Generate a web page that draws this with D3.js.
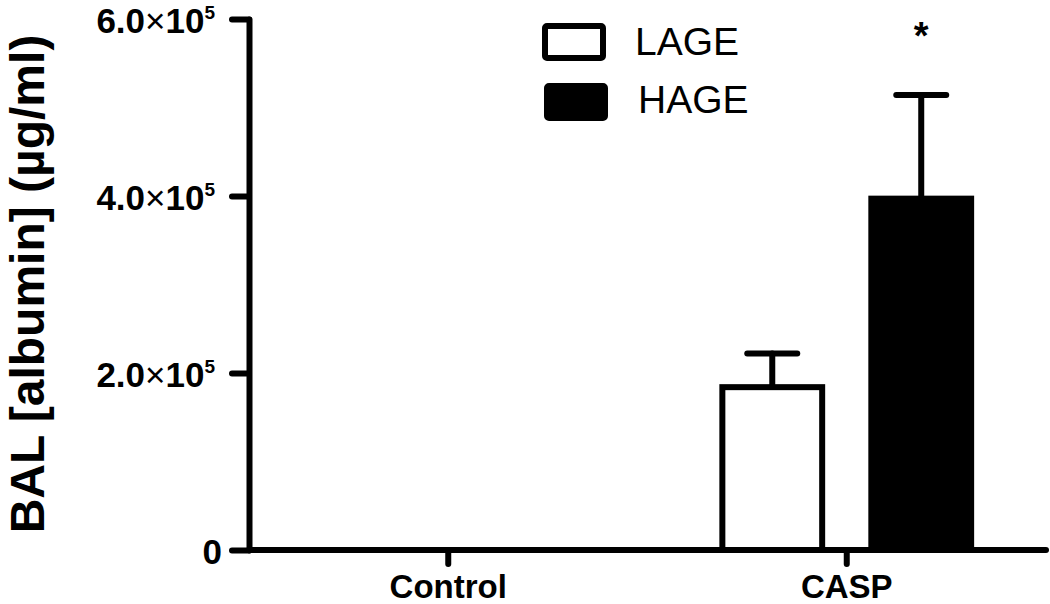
<!DOCTYPE html>
<html lang="en">
<head>
  <meta charset="UTF-8">
  <title>BAL albumin</title>
  <script src="https://d3js.org/d3.v7.min.js"></script>
  <style>
    body {
      margin: 0;
      background: #ffffff;
      font-family: "Liberation Sans", Arial, sans-serif;
    }

    .axis path,
    .axis line {
      stroke: #000000;
      stroke-width: 6;
      stroke-linecap: round;
    }

    .axis text {
      fill: #000000;
      font-weight: bold;
      font-family: "Liberation Sans", Arial, sans-serif;
    }

    .bar {
      stroke: #000000;
      stroke-width: 6;
    }

    .errbar {
      stroke: #000000;
      stroke-width: 6;
      stroke-linecap: round;
      fill: none;
    }
  </style>
</head>
<body>
  <script>
    // data
    const groups = ["Control", "CASP"];
    const series = ["LAGE", "HAGE"];
    const lageMean = [0, 184000];
    const lageSem = [0, 38000];
    const hageMean = [0, 397000];
    const hageSem = [0, 117000];
    const hageSig = ["", "*"];
    const yTicks = [0, 200000, 400000, 600000];

    const width = 1050, height = 604;
    const x0left = 249, x0right = 1046, yBottom = 550, yTop = 19;

    const svg = d3.select("body").append("svg")
      .attr("width", width)
      .attr("height", height);

    const y = d3.scaleLinear()
      .domain([0, 600000])
      .range([yBottom, yTop]);

    const x0 = d3.scaleBand()
      .domain(groups)
      .range([x0left, x0right])
      .paddingInner(0.2)
      .paddingOuter(0.1);

    const x1 = d3.scaleBand()
      .domain(series)
      .range([0, x0.bandwidth()])
      .paddingInner(0.33)
      .paddingOuter(0.235);

    const rows = [];
    groups.forEach(function (g, i) {
      rows.push({group: g, key: "LAGE", mean: lageMean[i], sem: lageSem[i], sig: ""});
      rows.push({group: g, key: "HAGE", mean: hageMean[i], sem: hageSem[i], sig: hageSig[i]});
    });

    const bx = d => x0(d.group) + x1(d.key);
    const cx = d => bx(d) + x1.bandwidth() / 2;

    // error bars (behind the bars)
    const withErr = rows.filter(d => d.sem > 0);
    svg.selectAll(".err-stem")
      .data(withErr)
      .enter().append("line")
      .attr("class", "errbar")
      .attr("x1", cx).attr("x2", cx)
      .attr("y1", d => y(d.mean))
      .attr("y2", d => y(d.mean + d.sem));

    svg.selectAll(".err-cap")
      .data(withErr)
      .enter().append("line")
      .attr("class", "errbar")
      .attr("x1", d => cx(d) - 25).attr("x2", d => cx(d) + 25)
      .attr("y1", d => y(d.mean + d.sem))
      .attr("y2", d => y(d.mean + d.sem));

    svg.selectAll(".bar")
      .data(rows)
      .enter().append("rect")
      .attr("class", "bar")
      .attr("x", bx)
      .attr("width", x1.bandwidth())
      .attr("y", d => y(d.mean))
      .attr("height", d => y(0) - y(d.mean))
      .attr("fill", d => d.key === "LAGE" ? "#ffffff" : "#000000");

    // significance
    svg.selectAll(".sig")
      .data(rows.filter(d => d.sig))
      .enter().append("text")
      .attr("x", cx)
      .attr("y", 49)
      .attr("text-anchor", "middle")
      .style("font-size", "38px")
      .style("font-weight", "bold")
      .text(d => d.sig);

    // y axis
    const yAxis = d3.axisLeft(y)
      .tickValues(yTicks)
      .tickSize(17)
      .tickSizeOuter(0)
      .tickPadding(0);

    const gy = svg.append("g")
      .attr("class", "axis")
      .attr("transform", "translate(" + x0left + ",0)")
      .call(yAxis);

    gy.selectAll(".tick text").each(function (d) {
      const t = d3.select(this);
      t.text(null)
        .attr("x", -34)
        .attr("dy", null)
        .attr("y", 13)
        .attr("text-anchor", "end")
        .style("font-size", "35px");
      if (d === 0) {
        t.append("tspan").text("0");
      } else {
        const mant = (d / 100000).toFixed(1);
        t.append("tspan").text(mant);
        t.append("tspan").style("font-weight", "normal").text("\u00d7");
        t.append("tspan").text("10");
        t.append("tspan").attr("dy", -14).style("font-size", "19px").text("5");
      }
    });
    gy.selectAll(".tick text").filter(d => d === 0).attr("x", -27);

    // x axis
    const xAxis = d3.axisBottom(x0)
      .tickSize(14)
      .tickSizeOuter(0);

    const gx = svg.append("g")
      .attr("class", "axis")
      .attr("transform", "translate(0," + yBottom + ")")
      .call(xAxis);

    gx.select(".domain").attr("d", "M" + x0left + ",0H" + x0right);
    gx.selectAll(".tick text")
      .attr("y", 48)
      .attr("dy", null)
      .style("font-size", "33px");

    // y title
    svg.append("text")
      .attr("transform", "rotate(-90)")
      .attr("x", -284)
      .attr("y", 44)
      .attr("text-anchor", "middle")
      .style("font-size", "48px")
      .style("font-weight", "bold")
      .text("BAL [albumin] (\u00b5g/ml)");

    // legend
    const legend = [
      {key: "LAGE", fill: "#ffffff", x: 545, y: 26, tx: 635, ty: 55},
      {key: "HAGE", fill: "#000000", x: 547, y: 86, tx: 638, ty: 113}
    ];
    const lg = svg.append("g");
    lg.selectAll("rect")
      .data(legend)
      .enter().append("rect")
      .attr("x", d => d.x).attr("y", d => d.y)
      .attr("width", 58).attr("height", 32)
      .attr("rx", 2)
      .attr("fill", d => d.fill)
      .attr("stroke", "#000000")
      .attr("stroke-width", 6);
    lg.selectAll("text")
      .data(legend)
      .enter().append("text")
      .attr("x", d => d.tx).attr("y", d => d.ty)
      .style("font-size", "39px")
      .text(d => d.key);
  </script>
</body>
</html>
